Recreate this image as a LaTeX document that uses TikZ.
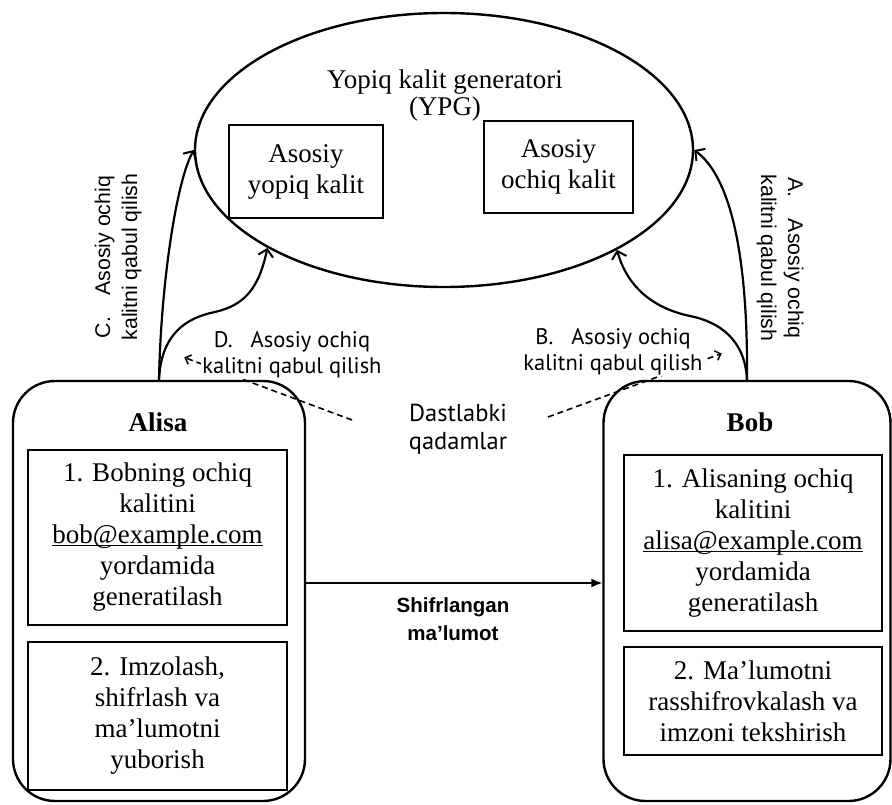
\documentclass[tikz,border=0pt]{standalone}
\usepackage{fontspec}
\setmainfont{Liberation Serif}
\newfontfamily\labfont{PT Sans}
\newfontfamily\arialfont{Liberation Sans}
\usetikzlibrary{shapes.geometric,arrows.meta,calc}
\newcommand\myul[1]{\setbox0\hbox{#1}\rlap{\rule[-2.5pt]{\wd0}{1.2pt}}\box0}
\begin{document}
\begin{tikzpicture}[x=1pt,y=-1pt,
  box/.style={draw, line width=1.8pt, align=center, inner sep=0pt, font=\fontsize{27}{31}\selectfont},
  party/.style={draw, line width=2.4pt, rounded corners=42pt, inner sep=0pt},
  keyarrow/.style={line width=2.2pt, -{Straight Barb[length=7pt,width=15pt,line width=2pt]}},
  dasharrow/.style={line width=1.6pt, dash pattern=on 6pt off 4pt, -{Straight Barb[length=5pt,width=10pt,line width=1.5pt,sep]}},
  lab/.style={font=\labfont\fontsize{22.5}{26}\selectfont, align=center, inner sep=1pt},
  vlab/.style={font=\arialfont\fontsize{21.3}{27}\selectfont, align=center, inner sep=0pt},
  ptitle/.style={font=\bfseries\fontsize{27}{31}\selectfont}
]
\useasboundingbox (0,0) rectangle (892,805);

% generator
\node[draw, ellipse, line width=2.4pt, minimum width=498pt, minimum height=274pt, inner sep=0pt] (ypg) at (444,150) {};
\node[font=\fontsize{27}{27}\selectfont, align=center] (ypgt) at (445,96) {Yopiq kalit generatori\\(YPG)};
\node[box, minimum width=154pt, minimum height=93pt] (yopiq) at (306,171.5) {Asosiy\\yopiq kalit};
\node[box, minimum width=149pt, minimum height=92pt] (ochiq) at (558.5,167) {Asosiy\\ochiq kalit};

% dashed arrows from Dastlabki qadamlar
\coordinate (dL) at (352,420);
\coordinate (dLe) at (183,357);
\coordinate (dR) at (548,417);
\coordinate (dRe) at (723,353);
\draw[dasharrow] (dL) -- (dLe);
\draw[dasharrow] (dR) -- (dRe);

% labels
\node[lab, fill=white] (labD) at (292,355) {D.\hspace{0.8em}Asosiy ochiq\\kalitni qabul qilish};
\node[lab, fill=white] (labB) at (613,352) {B.\hspace{0.8em}Asosiy ochiq\\kalitni qabul qilish};
\node[lab, font=\labfont\fontsize{24.5}{28}\selectfont] (dast) at (458,429) {Dastlabki\\qadamlar};
\node[vlab, rotate=90] (labC) at (118,257) {C.\hspace{1em}Asosiy ochiq\\kalitni qabul qilish};
\node[vlab, rotate=-90] (labA) at (780,258) {A.\hspace{1em}Asosiy ochiq\\kalitni qabul qilish};

% parties
\node[party, minimum width=292pt, minimum height=420pt] (alisa) at (159,591) {};
\node[party, minimum width=287pt, minimum height=420pt] (bob) at (747,591) {};
\node[ptitle] (alisat) at (158,422) {Alisa};
\node[ptitle] (bobt) at (750,422) {Bob};

\node[box, minimum width=259pt, minimum height=175pt] (a1) at (157.5,537.5)
  {1. Bobning ochiq\\kalitini\\\myul{bob@example.com}\\yordamida\\generatilash};
\node[box, minimum width=259pt, minimum height=148pt] (a2) at (157.5,716)
  {2. Imzolash,\\shifrlash va\\ma’lumotni\\yuborish};
\node[box, minimum width=258pt, minimum height=176pt] (b1) at (753,543)
  {1. Alisaning ochiq\\kalitini\\\myul{alisa@example.com}\\yordamida\\generatilash};
\node[box, minimum width=258pt, minimum height=108pt] (b2) at (753,701)
  {2. Ma’lumotni\\rasshifrovkalash va\\imzoni tekshirish};

% key arrows
\draw[keyarrow] (alisa.north) .. controls (161,280) and (177,180) .. (ypg.west);
\draw[keyarrow] (alisa.north) .. controls (161,335) and (185,318) .. (215,312)
  .. controls (245,305) and (259,288) .. (ypg.209);
\draw[keyarrow] (bob.north) .. controls (748,260) and (732,178) .. (ypg.east);
\draw[keyarrow] (bob.north) .. controls (745,340) and (720,322) .. (690,316)
  .. controls (652,308) and (627,286) .. (ypg.-30);

% encrypted data
\draw[line width=1.6pt, -{Latex[length=11pt,width=9pt]}] ([yshift=8pt]alisa.east) -- ([yshift=8pt]bob.west);
\node[font=\arialfont\bfseries\fontsize{20.5}{28}\selectfont, align=center] (shif) at (453,619) {Shifrlangan\\ma’lumot};
\end{tikzpicture}
\end{document}
